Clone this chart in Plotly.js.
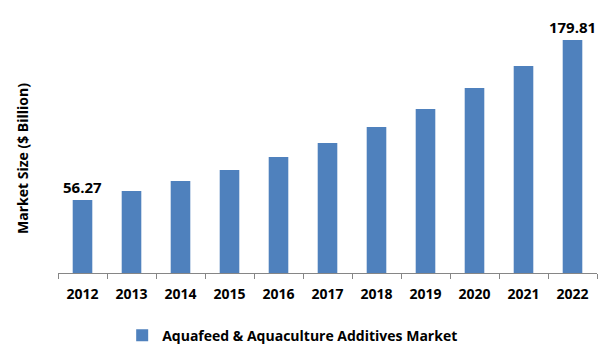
<!DOCTYPE html>
<html>
<head>
<meta charset="utf-8">
<script src="https://cdn.plot.ly/plotly-3.0.1.min.js"></script>
<style>html,body{margin:0;padding:0;background:#fff;}#chart{width:601px;height:361px;}</style>
</head>
<body>
<div id="chart"></div>
<script>
const years = ['2012','2013','2014','2015','2016','2017','2018','2019','2020','2021','2022'];
const marketSize = [56.27, 63.3, 71.0, 79.5, 89.5, 100.3, 112.7, 126.6, 142.8, 159.7, 179.81];
const valueLabels = ['56.27','','','','','','','','','','179.81'];
const seriesName = 'Aquafeed & Aquaculture Additives Market';
const yTitle = 'Market Size ($ Billion)';

const fontFam = '"Open Sans", sans-serif';

const trace = {
  type: 'bar',
  x: years,
  y: marketSize,
  name: seriesName,
  text: valueLabels,
  textposition: 'outside',
  constraintext: 'none',
  cliponaxis: false,
  textfont: {family: fontFam, size: 15, color: '#000', weight: 'bold'},
  marker: {color: '#4F81BD'},
  width: 0.4,
  hoverinfo: 'x+y'
};

const layout = {
  width: 601, height: 361,
  margin: {l: 58, r: 4, t: 20, b: 88},
  paper_bgcolor: '#fff', plot_bgcolor: '#fff',
  font: {family: fontFam, color: '#000'},
  showlegend: true,
  legend: {
    orientation: 'h', xref: 'container', yref: 'container',
    x: 0.487, xanchor: 'center', y: 0.07, yanchor: 'middle',
    font: {family: fontFam, size: 14, color: '#000', weight: 'bold'},
    itemwidth: 30
  },
  xaxis: {
    type: 'category',
    showline: true, linecolor: '#868686', linewidth: 1,
    ticks: 'outside', tickson: 'boundaries', ticklen: 5, tickcolor: '#868686',
    ticklabelstandoff: 8,
    tickfont: {family: fontFam, size: 14, color: '#000', weight: 'bold'},
    showgrid: false, zeroline: false,
    range: [-0.5, 10.5]
  },
  yaxis: {
    range: [0, 195.2],
    showline: false, showgrid: false, zeroline: false,
    showticklabels: false, ticks: ''
  },
  annotations: [{
    text: yTitle, textangle: -90,
    xref: 'paper', yref: 'paper',
    x: -0.0668, y: 0.4545, xanchor: 'center', yanchor: 'middle',
    showarrow: false,
    font: {family: fontFam, size: 14, color: '#000', weight: 'bold'}
  }],
  bargap: 0.6
};

Plotly.newPlot('chart', [trace], layout, {displayModeBar: false, staticPlot: true});
</script>
</body>
</html>
